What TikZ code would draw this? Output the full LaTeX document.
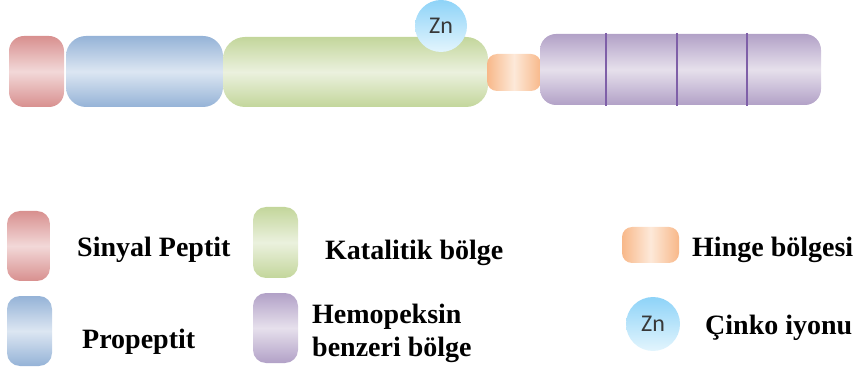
\documentclass[tikz,border=0pt]{standalone}
\usepackage{fontspec}
\setmainfont{Liberation Serif}
\newfontfamily\znfont{Carlito}
\definecolor{redD}{HTML}{D8908F}
\definecolor{redL}{HTML}{F2D8D8}
\definecolor{bluD}{HTML}{95B3D7}
\definecolor{bluL}{HTML}{DCE6F2}
\definecolor{grnD}{HTML}{C3D69B}
\definecolor{grnL}{HTML}{EBF1DE}
\definecolor{purD}{HTML}{B2A1C7}
\definecolor{purL}{HTML}{E6E0EC}
\definecolor{orgD}{HTML}{F8B889}
\definecolor{orgL}{HTML}{FDE9D9}
\definecolor{znD}{HTML}{8ED3F8}
\definecolor{znL}{HTML}{E3F5FD}
\definecolor{divC}{HTML}{7F5FA8}
\begin{document}
\begin{tikzpicture}[x=1pt,y=-1pt,
  seg/.style={inner sep=0pt, outer sep=0pt, draw=none},
  vgrad/.style 2 args={top color=#1, bottom color=#1, middle color=#2},
  hgrad/.style 2 args={left color=#1, right color=#1, middle color=#2},
  redbox/.style={seg, vgrad={redD}{redL}},
  blubox/.style={seg, vgrad={bluD}{bluL}},
  grnbox/.style={seg, vgrad={grnD}{grnL}},
  purbox/.style={seg, vgrad={purD}{purL}},
  orgbox/.style={seg, hgrad={orgD}{orgL}},
  znion/.style={circle, inner sep=0pt, minimum size=52pt, top color=znD, bottom color=znL, font=\znfont\fontsize{24}{26}\selectfont, text=black!78},
  divider/.style={draw=divC, line width=1.8pt},
  legtext/.style={anchor=west, inner sep=0pt, font=\bfseries\fontsize{28}{33}\selectfont, align=left}
]
\useasboundingbox (0,0) rectangle (859,371);

% main chain
\node[redbox, rounded corners=15pt, minimum width=55pt, minimum height=71pt] (sig) at (36.5,71.5) {};
\node[blubox, rounded corners=20pt, minimum width=157pt, minimum height=71pt] (pro) at (144.5,71.5) {};
\node[grnbox, rounded corners=22pt, minimum width=265pt, minimum height=70pt] (cat) at (355.5,72) {};
\node[orgbox, rounded corners=10pt, minimum width=54pt, minimum height=37pt] (hin) at (514,72.5) {};
\node[purbox, rounded corners=16pt, minimum width=281pt, minimum height=71pt] (hem) at (680.5,69.5) {};
\node[znion] (zn) at (441,26) {Zn};

\coordinate (d1t) at (606,33); \coordinate (d1b) at (606,106);
\coordinate (d2t) at (677,33); \coordinate (d2b) at (677,106);
\coordinate (d3t) at (747,33); \coordinate (d3b) at (747,106);
\draw[divider] (d1t) -- (d1b);
\draw[divider] (d2t) -- (d2b);
\draw[divider] (d3t) -- (d3b);

% legend
\node[redbox, rounded corners=13pt, minimum width=43pt, minimum height=70pt] (lsig) at (28.5,246) {};
\node[blubox, rounded corners=13pt, minimum width=45pt, minimum height=70pt] (lpro) at (29.5,331) {};
\node[grnbox, rounded corners=13pt, minimum width=45pt, minimum height=71pt] (lcat) at (275.5,242.5) {};
\node[purbox, rounded corners=13pt, minimum width=45pt, minimum height=70pt] (lhem) at (275.5,328) {};
\node[orgbox, rounded corners=10pt, minimum width=57pt, minimum height=36pt] (lhin) at (650.5,245) {};
\node[znion, minimum size=54pt] (lzn) at (653,324) {Zn};

\node[legtext] (tsig) at (77,250) {Sinyal Peptit};
\node[legtext] (tpro) at (82,342) {Propeptit};
\node[legtext] (tcat) at (325,253) {Katalitik bölge};
\node[legtext] (themo) at (312,333.5) {Hemopeksin\\benzeri bölge};
\node[legtext] (thin) at (692,250) {Hinge bölgesi};
\node[legtext] (tzn) at (705,328) {Çinko iyonu};
\end{tikzpicture}
\end{document}
